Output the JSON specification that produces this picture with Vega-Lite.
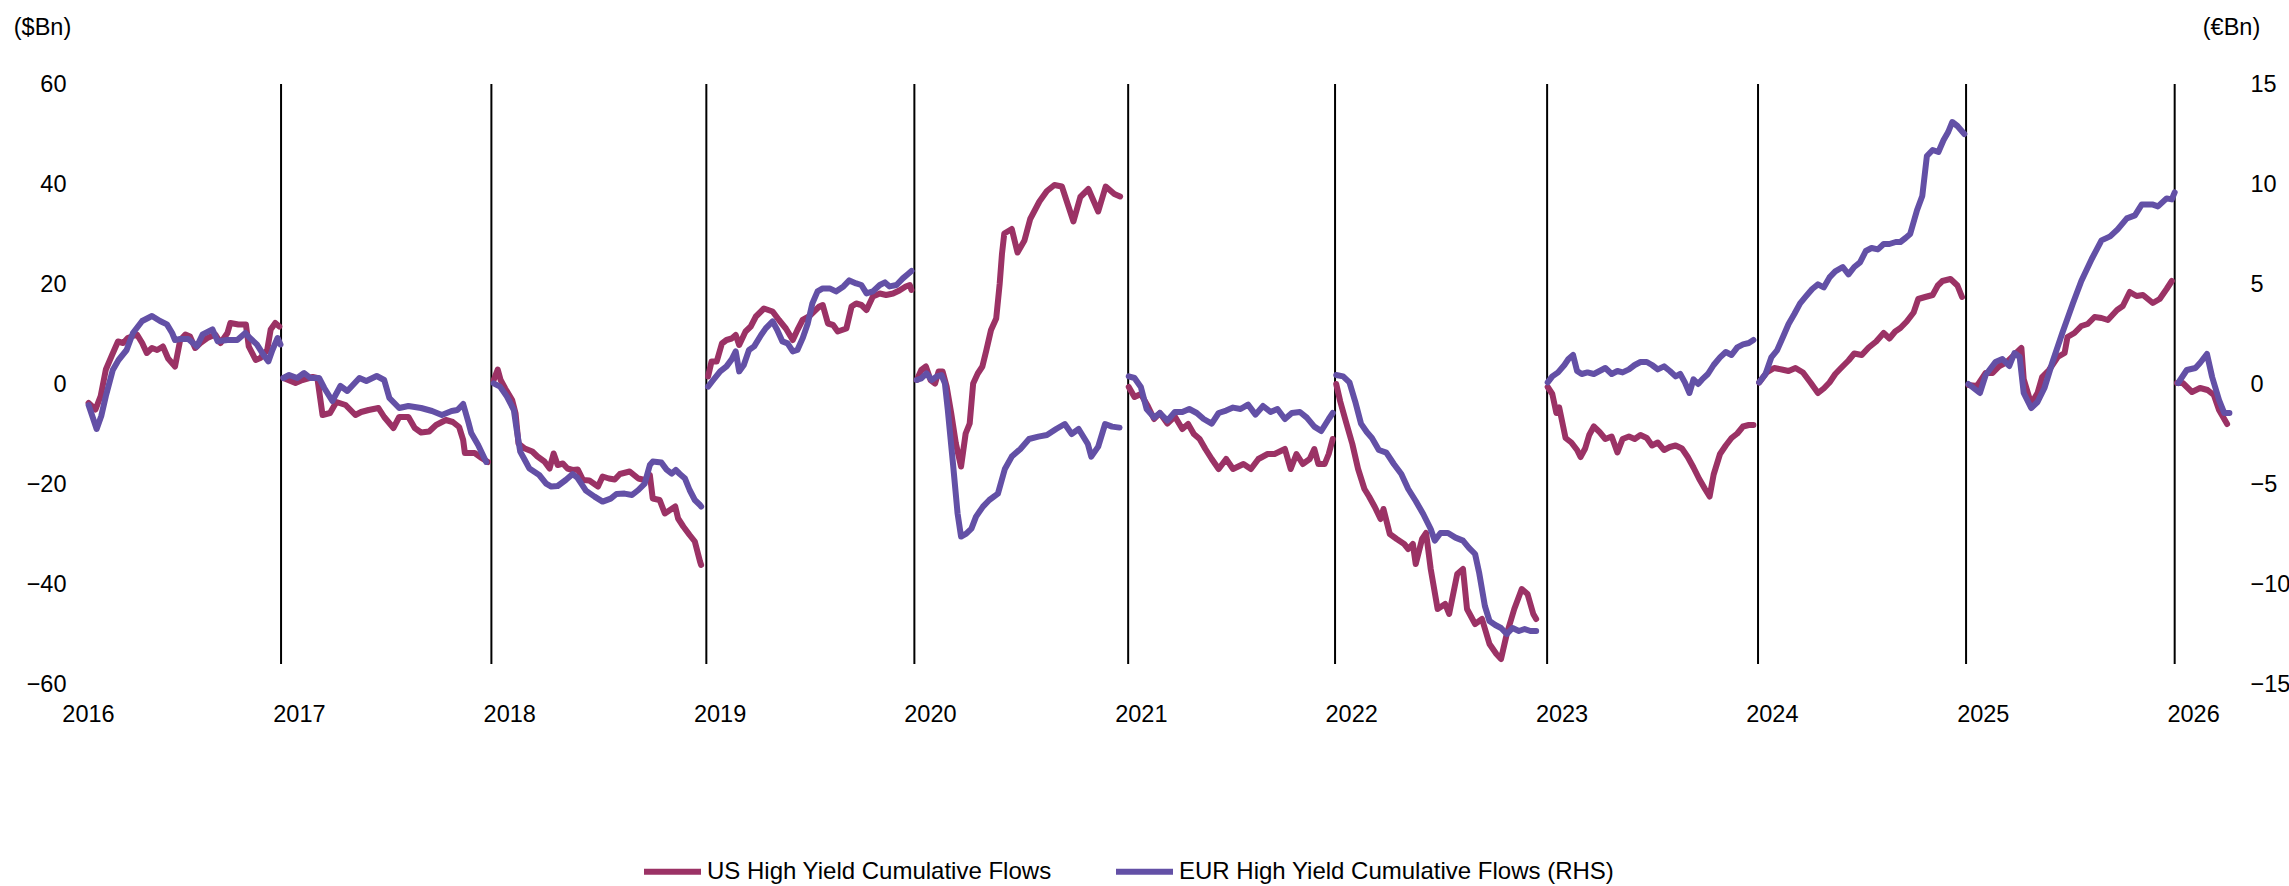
{
  "$schema": "https://vega.github.io/schema/vega-lite/v6.json",
  "width": 2142,
  "height": 600,
  "autosize": {"type": "none"},
  "padding": {"left": 88, "top": 84, "right": 59, "bottom": 202},
  "background": "white",
  "config": {
    "view": {"stroke": null},
    "font": "Liberation Sans",
    "axis": {"labelFont": "Liberation Sans", "labelFontSize": 23.5, "labelColor": "black", "titleFont": "Liberation Sans", "titleFontSize": 23.5, "titleFontWeight": "normal", "titleColor": "black", "domain": false, "ticks": false, "tickSize": 0, "grid": false},
    "legend": {"labelFont": "Liberation Sans", "labelFontSize": 24, "labelColor": "black", "labelLimit": 0}
  },
  "datasets": {
    "us": [
      {"date": "2016-02-02", "v": -3.8}, {"date": "2016-02-14", "v": -5.1}, {"date": "2016-02-23", "v": -2.4}, {"date": "2016-03-03", "v": 2.9}, {"date": "2016-03-13", "v": 5.6}, {"date": "2016-03-24", "v": 8.5}, {"date": "2016-04-02", "v": 8.2}, {"date": "2016-04-10", "v": 9.2}, {"date": "2016-04-26", "v": 9.9}, {"date": "2016-05-05", "v": 8.2}, {"date": "2016-05-13", "v": 6.2}, {"date": "2016-05-22", "v": 7.2}, {"date": "2016-05-31", "v": 6.8}, {"date": "2016-06-10", "v": 7.5}, {"date": "2016-06-19", "v": 5.1}, {"date": "2016-07-01", "v": 3.5}, {"date": "2016-07-10", "v": 8.8}, {"date": "2016-07-19", "v": 9.9}, {"date": "2016-07-27", "v": 9.5}, {"date": "2016-08-05", "v": 7.2}, {"date": "2016-08-14", "v": 8.2}, {"date": "2016-08-26", "v": 9.2}, {"date": "2016-09-09", "v": 9.9}, {"date": "2016-09-18", "v": 8.2}, {"date": "2016-09-30", "v": 10.2}, {"date": "2016-10-05", "v": 12.2}, {"date": "2016-10-19", "v": 11.9}, {"date": "2016-11-01", "v": 11.9}, {"date": "2016-11-06", "v": 7.5}, {"date": "2016-11-18", "v": 4.8}, {"date": "2016-11-26", "v": 5.2}, {"date": "2016-12-08", "v": 6.8}, {"date": "2016-12-14", "v": 10.9}, {"date": "2016-12-22", "v": 12.2}, {"date": "2016-12-29", "v": 11.5},
      {"date": "2017-01-05", "v": 1.2}, {"date": "2017-01-26", "v": 0.2}, {"date": "2017-02-07", "v": 0.8}, {"date": "2017-02-25", "v": 1.4}, {"date": "2017-03-05", "v": 1.2}, {"date": "2017-03-14", "v": -6.2}, {"date": "2017-03-27", "v": -5.8}, {"date": "2017-04-07", "v": -3.6}, {"date": "2017-04-23", "v": -4.2}, {"date": "2017-05-10", "v": -6.2}, {"date": "2017-05-20", "v": -5.6}, {"date": "2017-06-02", "v": -5.2}, {"date": "2017-06-19", "v": -4.8}, {"date": "2017-06-29", "v": -6.6}, {"date": "2017-07-15", "v": -8.8}, {"date": "2017-07-25", "v": -6.6}, {"date": "2017-08-10", "v": -6.6}, {"date": "2017-08-21", "v": -8.8}, {"date": "2017-09-01", "v": -9.7}, {"date": "2017-09-15", "v": -9.5}, {"date": "2017-09-27", "v": -8.2}, {"date": "2017-10-14", "v": -7.2}, {"date": "2017-10-26", "v": -7.6}, {"date": "2017-11-06", "v": -8.6}, {"date": "2017-11-13", "v": -11.2}, {"date": "2017-11-16", "v": -13.8}, {"date": "2017-12-03", "v": -13.8}, {"date": "2017-12-15", "v": -14.8}, {"date": "2017-12-26", "v": -15.6},
      {"date": "2018-01-05", "v": 0.8}, {"date": "2018-01-12", "v": 2.9}, {"date": "2018-01-17", "v": 0.8}, {"date": "2018-01-25", "v": -0.9}, {"date": "2018-02-06", "v": -3.2}, {"date": "2018-02-12", "v": -5.9}, {"date": "2018-02-17", "v": -11.9}, {"date": "2018-02-28", "v": -12.9}, {"date": "2018-03-13", "v": -13.5}, {"date": "2018-03-22", "v": -14.5}, {"date": "2018-04-03", "v": -15.5}, {"date": "2018-04-12", "v": -16.9}, {"date": "2018-04-19", "v": -13.9}, {"date": "2018-04-26", "v": -16.2}, {"date": "2018-05-05", "v": -15.9}, {"date": "2018-05-13", "v": -16.9}, {"date": "2018-05-22", "v": -17.2}, {"date": "2018-05-31", "v": -17.1}, {"date": "2018-06-09", "v": -19.2}, {"date": "2018-06-20", "v": -19.3}, {"date": "2018-07-05", "v": -20.5}, {"date": "2018-07-13", "v": -18.5}, {"date": "2018-07-24", "v": -18.9}, {"date": "2018-08-03", "v": -19.1}, {"date": "2018-08-12", "v": -18.0}, {"date": "2018-08-29", "v": -17.5}, {"date": "2018-09-13", "v": -18.9}, {"date": "2018-09-24", "v": -19.2}, {"date": "2018-10-03", "v": -18.2}, {"date": "2018-10-08", "v": -22.9}, {"date": "2018-10-20", "v": -23.2}, {"date": "2018-10-29", "v": -25.9}, {"date": "2018-11-07", "v": -25.2}, {"date": "2018-11-16", "v": -24.5}, {"date": "2018-11-21", "v": -26.9}, {"date": "2018-11-30", "v": -28.5}, {"date": "2018-12-11", "v": -30.2}, {"date": "2018-12-20", "v": -31.5}, {"date": "2018-12-29", "v": -35.5}, {"date": "2018-12-31", "v": -36.2},
      {"date": "2019-01-12", "v": 1.5}, {"date": "2019-01-18", "v": 4.5}, {"date": "2019-01-27", "v": 4.5}, {"date": "2019-02-05", "v": 8.1}, {"date": "2019-02-13", "v": 8.8}, {"date": "2019-02-22", "v": 9.1}, {"date": "2019-03-01", "v": 9.8}, {"date": "2019-03-07", "v": 7.8}, {"date": "2019-03-18", "v": 10.5}, {"date": "2019-03-27", "v": 11.5}, {"date": "2019-04-05", "v": 13.5}, {"date": "2019-04-19", "v": 15.1}, {"date": "2019-05-04", "v": 14.5}, {"date": "2019-05-15", "v": 12.8}, {"date": "2019-05-27", "v": 11.1}, {"date": "2019-06-08", "v": 8.8}, {"date": "2019-06-16", "v": 10.8}, {"date": "2019-06-25", "v": 12.8}, {"date": "2019-07-06", "v": 13.5}, {"date": "2019-07-15", "v": 14.5}, {"date": "2019-07-24", "v": 15.5}, {"date": "2019-07-30", "v": 15.8}, {"date": "2019-08-08", "v": 12.1}, {"date": "2019-08-17", "v": 11.8}, {"date": "2019-08-25", "v": 10.5}, {"date": "2019-09-09", "v": 11.1}, {"date": "2019-09-18", "v": 15.5}, {"date": "2019-09-26", "v": 16.1}, {"date": "2019-10-05", "v": 15.8}, {"date": "2019-10-14", "v": 14.8}, {"date": "2019-10-25", "v": 17.5}, {"date": "2019-11-06", "v": 18.1}, {"date": "2019-11-17", "v": 17.8}, {"date": "2019-11-29", "v": 18.1}, {"date": "2019-12-10", "v": 18.7}, {"date": "2019-12-21", "v": 19.5}, {"date": "2019-12-28", "v": 19.8}, {"date": "2019-12-31", "v": 18.8},
      {"date": "2020-01-09", "v": 0.8}, {"date": "2020-01-17", "v": 2.8}, {"date": "2020-01-25", "v": 3.5}, {"date": "2020-02-02", "v": 0.8}, {"date": "2020-02-10", "v": 0.1}, {"date": "2020-02-16", "v": 2.5}, {"date": "2020-02-23", "v": 2.5}, {"date": "2020-03-01", "v": -0.5}, {"date": "2020-03-09", "v": -5.9}, {"date": "2020-03-17", "v": -11.9}, {"date": "2020-03-26", "v": -16.5}, {"date": "2020-04-03", "v": -9.9}, {"date": "2020-04-10", "v": -7.9}, {"date": "2020-04-16", "v": 0.1}, {"date": "2020-04-24", "v": 2.1}, {"date": "2020-05-02", "v": 3.5}, {"date": "2020-05-09", "v": 6.8}, {"date": "2020-05-17", "v": 10.8}, {"date": "2020-05-26", "v": 13.1}, {"date": "2020-06-01", "v": 20}, {"date": "2020-06-05", "v": 26}, {"date": "2020-06-09", "v": 30.1}, {"date": "2020-06-22", "v": 31}, {"date": "2020-07-02", "v": 26.3}, {"date": "2020-07-14", "v": 28.7}, {"date": "2020-07-24", "v": 33}, {"date": "2020-08-09", "v": 36.5}, {"date": "2020-08-22", "v": 38.6}, {"date": "2020-09-04", "v": 39.8}, {"date": "2020-09-17", "v": 39.5}, {"date": "2020-09-27", "v": 36}, {"date": "2020-10-07", "v": 32.5}, {"date": "2020-10-19", "v": 37.4}, {"date": "2020-11-02", "v": 39}, {"date": "2020-11-19", "v": 34.5}, {"date": "2020-12-02", "v": 39.5}, {"date": "2020-12-17", "v": 38}, {"date": "2020-12-27", "v": 37.5},
      {"date": "2021-01-11", "v": -0.6}, {"date": "2021-01-21", "v": -2.6}, {"date": "2021-02-01", "v": -2}, {"date": "2021-02-13", "v": -4.4}, {"date": "2021-02-24", "v": -7}, {"date": "2021-03-06", "v": -5.8}, {"date": "2021-03-19", "v": -7.9}, {"date": "2021-04-01", "v": -6.5}, {"date": "2021-04-14", "v": -9}, {"date": "2021-04-24", "v": -8}, {"date": "2021-05-04", "v": -10}, {"date": "2021-05-14", "v": -11}, {"date": "2021-05-24", "v": -13}, {"date": "2021-06-04", "v": -15}, {"date": "2021-06-16", "v": -17}, {"date": "2021-06-29", "v": -15}, {"date": "2021-07-11", "v": -17}, {"date": "2021-07-29", "v": -16}, {"date": "2021-08-11", "v": -17}, {"date": "2021-08-24", "v": -15}, {"date": "2021-09-09", "v": -14}, {"date": "2021-09-21", "v": -14}, {"date": "2021-10-09", "v": -13}, {"date": "2021-10-19", "v": -17}, {"date": "2021-10-29", "v": -14}, {"date": "2021-11-09", "v": -16}, {"date": "2021-11-21", "v": -15}, {"date": "2021-11-29", "v": -13}, {"date": "2021-12-06", "v": -16}, {"date": "2021-12-17", "v": -16}, {"date": "2021-12-24", "v": -14}, {"date": "2021-12-31", "v": -11},
      {"date": "2022-01-06", "v": 0}, {"date": "2022-01-13", "v": -3.5}, {"date": "2022-01-24", "v": -8}, {"date": "2022-02-03", "v": -12}, {"date": "2022-02-13", "v": -17}, {"date": "2022-02-24", "v": -21}, {"date": "2022-03-04", "v": -22.5}, {"date": "2022-03-14", "v": -24.6}, {"date": "2022-03-24", "v": -27}, {"date": "2022-03-29", "v": -25}, {"date": "2022-04-09", "v": -30}, {"date": "2022-04-21", "v": -31}, {"date": "2022-05-04", "v": -32}, {"date": "2022-05-11", "v": -33}, {"date": "2022-05-19", "v": -32}, {"date": "2022-05-24", "v": -36}, {"date": "2022-06-04", "v": -31}, {"date": "2022-06-11", "v": -29.8}, {"date": "2022-06-19", "v": -37}, {"date": "2022-07-01", "v": -45}, {"date": "2022-07-14", "v": -44}, {"date": "2022-07-21", "v": -46}, {"date": "2022-08-04", "v": -38}, {"date": "2022-08-14", "v": -37}, {"date": "2022-08-21", "v": -45}, {"date": "2022-09-04", "v": -48}, {"date": "2022-09-16", "v": -47}, {"date": "2022-09-29", "v": -52}, {"date": "2022-10-11", "v": -54}, {"date": "2022-10-19", "v": -55}, {"date": "2022-10-29", "v": -50}, {"date": "2022-11-11", "v": -45}, {"date": "2022-11-24", "v": -41}, {"date": "2022-12-04", "v": -42}, {"date": "2022-12-14", "v": -46}, {"date": "2022-12-19", "v": -47},
      {"date": "2023-01-08", "v": -0.6}, {"date": "2023-01-16", "v": -2}, {"date": "2023-01-23", "v": -5.8}, {"date": "2023-01-28", "v": -4.7}, {"date": "2023-02-08", "v": -10.8}, {"date": "2023-02-18", "v": -11.7}, {"date": "2023-02-28", "v": -13.2}, {"date": "2023-03-06", "v": -14.6}, {"date": "2023-03-14", "v": -12.9}, {"date": "2023-03-21", "v": -10.2}, {"date": "2023-03-29", "v": -8.5}, {"date": "2023-04-08", "v": -9.6}, {"date": "2023-04-18", "v": -11}, {"date": "2023-04-29", "v": -10.5}, {"date": "2023-05-09", "v": -13.7}, {"date": "2023-05-18", "v": -11}, {"date": "2023-05-29", "v": -10.5}, {"date": "2023-06-08", "v": -11}, {"date": "2023-06-18", "v": -10.2}, {"date": "2023-06-29", "v": -10.8}, {"date": "2023-07-08", "v": -12.3}, {"date": "2023-07-18", "v": -11.7}, {"date": "2023-07-29", "v": -13.2}, {"date": "2023-08-08", "v": -12.6}, {"date": "2023-08-18", "v": -12.3}, {"date": "2023-08-29", "v": -12.9}, {"date": "2023-09-08", "v": -14.6}, {"date": "2023-09-18", "v": -16.7}, {"date": "2023-09-28", "v": -19}, {"date": "2023-10-08", "v": -21}, {"date": "2023-10-16", "v": -22.5}, {"date": "2023-10-23", "v": -18.1}, {"date": "2023-11-03", "v": -14}, {"date": "2023-11-13", "v": -12.3}, {"date": "2023-11-23", "v": -10.8}, {"date": "2023-12-03", "v": -9.9}, {"date": "2023-12-13", "v": -8.5}, {"date": "2023-12-23", "v": -8.2}, {"date": "2023-12-31", "v": -8.2},
      {"date": "2024-01-10", "v": 0.3}, {"date": "2024-01-23", "v": 2.3}, {"date": "2024-02-05", "v": 3.2}, {"date": "2024-02-18", "v": 2.9}, {"date": "2024-03-01", "v": 2.6}, {"date": "2024-03-13", "v": 3.2}, {"date": "2024-03-26", "v": 2.3}, {"date": "2024-04-08", "v": 0.3}, {"date": "2024-04-21", "v": -1.8}, {"date": "2024-05-01", "v": -0.9}, {"date": "2024-05-11", "v": 0.3}, {"date": "2024-05-21", "v": 2}, {"date": "2024-05-31", "v": 3.2}, {"date": "2024-06-13", "v": 4.7}, {"date": "2024-06-23", "v": 6.1}, {"date": "2024-07-06", "v": 5.8}, {"date": "2024-07-18", "v": 7.3}, {"date": "2024-07-31", "v": 8.5}, {"date": "2024-08-13", "v": 10.2}, {"date": "2024-08-23", "v": 9.1}, {"date": "2024-09-02", "v": 10.5}, {"date": "2024-09-11", "v": 11.2}, {"date": "2024-09-22", "v": 12.5}, {"date": "2024-10-04", "v": 14.3}, {"date": "2024-10-12", "v": 17}, {"date": "2024-10-24", "v": 17.4}, {"date": "2024-11-06", "v": 17.8}, {"date": "2024-11-15", "v": 19.7}, {"date": "2024-11-23", "v": 20.6}, {"date": "2024-12-07", "v": 21}, {"date": "2024-12-19", "v": 19.7}, {"date": "2024-12-27", "v": 17.4},
      {"date": "2025-01-07", "v": -0.2}, {"date": "2025-01-22", "v": -0.4}, {"date": "2025-02-06", "v": 2.2}, {"date": "2025-02-18", "v": 2.2}, {"date": "2025-03-02", "v": 3.6}, {"date": "2025-03-15", "v": 4.4}, {"date": "2025-03-31", "v": 6.2}, {"date": "2025-04-09", "v": 7.2}, {"date": "2025-04-13", "v": 1}, {"date": "2025-04-26", "v": -4}, {"date": "2025-05-07", "v": -1.8}, {"date": "2025-05-15", "v": 1.4}, {"date": "2025-05-27", "v": 2.8}, {"date": "2025-06-11", "v": 5.4}, {"date": "2025-06-23", "v": 6.2}, {"date": "2025-06-28", "v": 9.4}, {"date": "2025-07-10", "v": 10.2}, {"date": "2025-07-22", "v": 11.6}, {"date": "2025-08-02", "v": 12}, {"date": "2025-08-14", "v": 13.4}, {"date": "2025-08-26", "v": 13.2}, {"date": "2025-09-06", "v": 12.8}, {"date": "2025-09-22", "v": 14.8}, {"date": "2025-10-02", "v": 15.6}, {"date": "2025-10-14", "v": 18.4}, {"date": "2025-10-26", "v": 17.6}, {"date": "2025-11-06", "v": 17.8}, {"date": "2025-11-23", "v": 16.2}, {"date": "2025-12-05", "v": 17}, {"date": "2025-12-17", "v": 19}, {"date": "2025-12-26", "v": 20.6},
      {"date": "2026-01-04", "v": 0.2}, {"date": "2026-01-14", "v": 0.2}, {"date": "2026-01-30", "v": -1.6}, {"date": "2026-02-13", "v": -0.8}, {"date": "2026-02-26", "v": -1.2}, {"date": "2026-03-09", "v": -2.2}, {"date": "2026-03-18", "v": -5.2}, {"date": "2026-04-01", "v": -8.0}
    ],
    "eur": [
      {"date": "2016-02-02", "v": -1.05}, {"date": "2016-02-16", "v": -2.25}, {"date": "2016-02-24", "v": -1.6}, {"date": "2016-03-03", "v": -0.6}, {"date": "2016-03-15", "v": 0.7}, {"date": "2016-03-25", "v": 1.2}, {"date": "2016-04-08", "v": 1.7}, {"date": "2016-04-19", "v": 2.55}, {"date": "2016-05-05", "v": 3.15}, {"date": "2016-05-22", "v": 3.4}, {"date": "2016-06-05", "v": 3.15}, {"date": "2016-06-17", "v": 2.98}, {"date": "2016-06-26", "v": 2.55}, {"date": "2016-07-01", "v": 2.2}, {"date": "2016-07-10", "v": 2.25}, {"date": "2016-07-24", "v": 2.25}, {"date": "2016-08-08", "v": 1.88}, {"date": "2016-08-18", "v": 2.48}, {"date": "2016-09-04", "v": 2.73}, {"date": "2016-09-13", "v": 2.13}, {"date": "2016-09-30", "v": 2.2}, {"date": "2016-10-17", "v": 2.2}, {"date": "2016-10-31", "v": 2.55}, {"date": "2016-11-08", "v": 2.3}, {"date": "2016-11-20", "v": 1.98}, {"date": "2016-12-01", "v": 1.48}, {"date": "2016-12-10", "v": 1.13}, {"date": "2016-12-17", "v": 1.7}, {"date": "2016-12-26", "v": 2.3}, {"date": "2016-12-31", "v": 1.98},
      {"date": "2017-01-05", "v": 0.3}, {"date": "2017-01-15", "v": 0.45}, {"date": "2017-01-29", "v": 0.3}, {"date": "2017-02-10", "v": 0.55}, {"date": "2017-02-21", "v": 0.3}, {"date": "2017-03-08", "v": 0.3}, {"date": "2017-03-17", "v": -0.2}, {"date": "2017-03-31", "v": -0.85}, {"date": "2017-04-14", "v": -0.1}, {"date": "2017-04-26", "v": -0.35}, {"date": "2017-05-17", "v": 0.3}, {"date": "2017-05-29", "v": 0.15}, {"date": "2017-06-16", "v": 0.4}, {"date": "2017-06-29", "v": 0.2}, {"date": "2017-07-08", "v": -0.7}, {"date": "2017-07-25", "v": -1.2}, {"date": "2017-08-10", "v": -1.1}, {"date": "2017-09-01", "v": -1.2}, {"date": "2017-09-20", "v": -1.35}, {"date": "2017-10-07", "v": -1.55}, {"date": "2017-10-24", "v": -1.35}, {"date": "2017-11-03", "v": -1.3}, {"date": "2017-11-13", "v": -1.0}, {"date": "2017-11-22", "v": -1.9}, {"date": "2017-11-27", "v": -2.45}, {"date": "2017-12-09", "v": -3.05}, {"date": "2017-12-23", "v": -3.9},
      {"date": "2018-01-05", "v": 0.03}, {"date": "2018-01-16", "v": -0.13}, {"date": "2018-01-28", "v": -0.63}, {"date": "2018-02-09", "v": -1.3}, {"date": "2018-02-14", "v": -2.3}, {"date": "2018-02-20", "v": -3.38}, {"date": "2018-02-28", "v": -3.8}, {"date": "2018-03-08", "v": -4.23}, {"date": "2018-03-25", "v": -4.55}, {"date": "2018-04-06", "v": -4.98}, {"date": "2018-04-15", "v": -5.13}, {"date": "2018-04-26", "v": -5.1}, {"date": "2018-05-10", "v": -4.8}, {"date": "2018-05-22", "v": -4.5}, {"date": "2018-05-30", "v": -4.68}, {"date": "2018-06-06", "v": -4.98}, {"date": "2018-06-14", "v": -5.33}, {"date": "2018-06-29", "v": -5.63}, {"date": "2018-07-13", "v": -5.88}, {"date": "2018-07-27", "v": -5.73}, {"date": "2018-08-06", "v": -5.5}, {"date": "2018-08-20", "v": -5.48}, {"date": "2018-09-02", "v": -5.55}, {"date": "2018-09-13", "v": -5.3}, {"date": "2018-09-24", "v": -4.98}, {"date": "2018-10-03", "v": -4.05}, {"date": "2018-10-08", "v": -3.88}, {"date": "2018-10-23", "v": -3.93}, {"date": "2018-11-01", "v": -4.28}, {"date": "2018-11-10", "v": -4.48}, {"date": "2018-11-17", "v": -4.3}, {"date": "2018-11-24", "v": -4.5}, {"date": "2018-12-03", "v": -4.73}, {"date": "2018-12-11", "v": -5.3}, {"date": "2018-12-20", "v": -5.8}, {"date": "2018-12-29", "v": -6.05}, {"date": "2018-12-31", "v": -6.13},
      {"date": "2019-01-12", "v": -0.13}, {"date": "2019-01-21", "v": 0.2}, {"date": "2019-02-02", "v": 0.63}, {"date": "2019-02-13", "v": 0.88}, {"date": "2019-02-22", "v": 1.23}, {"date": "2019-03-01", "v": 1.63}, {"date": "2019-03-07", "v": 0.63}, {"date": "2019-03-15", "v": 0.95}, {"date": "2019-03-24", "v": 1.7}, {"date": "2019-04-02", "v": 1.88}, {"date": "2019-04-14", "v": 2.45}, {"date": "2019-04-22", "v": 2.78}, {"date": "2019-05-04", "v": 3.13}, {"date": "2019-05-12", "v": 2.7}, {"date": "2019-05-21", "v": 2.13}, {"date": "2019-05-30", "v": 2.03}, {"date": "2019-06-08", "v": 1.63}, {"date": "2019-06-16", "v": 1.7}, {"date": "2019-06-25", "v": 2.28}, {"date": "2019-07-04", "v": 3.03}, {"date": "2019-07-12", "v": 4.03}, {"date": "2019-07-21", "v": 4.63}, {"date": "2019-07-30", "v": 4.78}, {"date": "2019-08-11", "v": 4.78}, {"date": "2019-08-22", "v": 4.63}, {"date": "2019-09-04", "v": 4.88}, {"date": "2019-09-14", "v": 5.18}, {"date": "2019-09-26", "v": 5.03}, {"date": "2019-10-05", "v": 4.95}, {"date": "2019-10-14", "v": 4.53}, {"date": "2019-10-25", "v": 4.63}, {"date": "2019-11-06", "v": 4.95}, {"date": "2019-11-15", "v": 5.08}, {"date": "2019-11-23", "v": 4.88}, {"date": "2019-12-05", "v": 4.95}, {"date": "2019-12-16", "v": 5.28}, {"date": "2019-12-25", "v": 5.5}, {"date": "2019-12-31", "v": 5.65},
      {"date": "2020-01-09", "v": 0.2}, {"date": "2020-01-17", "v": 0.28}, {"date": "2020-01-26", "v": 0.53}, {"date": "2020-02-04", "v": 0.2}, {"date": "2020-02-13", "v": 0.38}, {"date": "2020-02-21", "v": 0.45}, {"date": "2020-02-27", "v": 0.03}, {"date": "2020-03-03", "v": -1.3}, {"date": "2020-03-12", "v": -3.98}, {"date": "2020-03-20", "v": -6.48}, {"date": "2020-03-26", "v": -7.63}, {"date": "2020-04-04", "v": -7.48}, {"date": "2020-04-13", "v": -7.23}, {"date": "2020-04-21", "v": -6.63}, {"date": "2020-05-03", "v": -6.13}, {"date": "2020-05-14", "v": -5.8}, {"date": "2020-05-29", "v": -5.48}, {"date": "2020-06-10", "v": -4.25}, {"date": "2020-06-22", "v": -3.63}, {"date": "2020-07-07", "v": -3.25}, {"date": "2020-07-22", "v": -2.75}, {"date": "2020-08-07", "v": -2.63}, {"date": "2020-08-22", "v": -2.55}, {"date": "2020-09-07", "v": -2.25}, {"date": "2020-09-22", "v": -2.0}, {"date": "2020-10-04", "v": -2.5}, {"date": "2020-10-16", "v": -2.25}, {"date": "2020-11-01", "v": -3.0}, {"date": "2020-11-07", "v": -3.63}, {"date": "2020-11-19", "v": -3.13}, {"date": "2020-12-01", "v": -2.0}, {"date": "2020-12-13", "v": -2.13}, {"date": "2020-12-26", "v": -2.18},
      {"date": "2021-01-11", "v": 0.38}, {"date": "2021-01-21", "v": 0.3}, {"date": "2021-02-01", "v": -0.15}, {"date": "2021-02-11", "v": -1.25}, {"date": "2021-02-24", "v": -1.68}, {"date": "2021-03-06", "v": -1.45}, {"date": "2021-03-19", "v": -1.83}, {"date": "2021-04-01", "v": -1.4}, {"date": "2021-04-14", "v": -1.4}, {"date": "2021-04-26", "v": -1.25}, {"date": "2021-05-09", "v": -1.45}, {"date": "2021-05-21", "v": -1.75}, {"date": "2021-06-04", "v": -1.98}, {"date": "2021-06-16", "v": -1.45}, {"date": "2021-06-29", "v": -1.33}, {"date": "2021-07-11", "v": -1.18}, {"date": "2021-07-24", "v": -1.25}, {"date": "2021-08-06", "v": -1.03}, {"date": "2021-08-19", "v": -1.53}, {"date": "2021-09-01", "v": -1.1}, {"date": "2021-09-14", "v": -1.4}, {"date": "2021-09-26", "v": -1.25}, {"date": "2021-10-09", "v": -1.75}, {"date": "2021-10-21", "v": -1.45}, {"date": "2021-11-04", "v": -1.4}, {"date": "2021-11-16", "v": -1.68}, {"date": "2021-11-29", "v": -2.13}, {"date": "2021-12-11", "v": -2.35}, {"date": "2021-12-24", "v": -1.75}, {"date": "2021-12-31", "v": -1.45},
      {"date": "2022-01-06", "v": 0.45}, {"date": "2022-01-18", "v": 0.38}, {"date": "2022-01-29", "v": 0.08}, {"date": "2022-02-08", "v": -0.88}, {"date": "2022-02-18", "v": -1.98}, {"date": "2022-02-28", "v": -2.4}, {"date": "2022-03-09", "v": -2.7}, {"date": "2022-03-21", "v": -3.3}, {"date": "2022-04-03", "v": -3.43}, {"date": "2022-04-16", "v": -4.0}, {"date": "2022-04-29", "v": -4.5}, {"date": "2022-05-11", "v": -5.25}, {"date": "2022-05-24", "v": -5.85}, {"date": "2022-06-06", "v": -6.5}, {"date": "2022-06-19", "v": -7.25}, {"date": "2022-06-26", "v": -7.83}, {"date": "2022-07-06", "v": -7.45}, {"date": "2022-07-19", "v": -7.45}, {"date": "2022-08-01", "v": -7.68}, {"date": "2022-08-14", "v": -7.83}, {"date": "2022-08-24", "v": -8.18}, {"date": "2022-09-04", "v": -8.5}, {"date": "2022-09-11", "v": -9.43}, {"date": "2022-09-21", "v": -11.1}, {"date": "2022-09-29", "v": -11.85}, {"date": "2022-10-09", "v": -12.05}, {"date": "2022-10-19", "v": -12.2}, {"date": "2022-10-29", "v": -12.5}, {"date": "2022-11-08", "v": -12.2}, {"date": "2022-11-19", "v": -12.35}, {"date": "2022-11-29", "v": -12.25}, {"date": "2022-12-09", "v": -12.35}, {"date": "2022-12-19", "v": -12.35},
      {"date": "2023-01-08", "v": 0.08}, {"date": "2023-01-16", "v": 0.38}, {"date": "2023-01-26", "v": 0.58}, {"date": "2023-02-06", "v": 0.95}, {"date": "2023-02-13", "v": 1.25}, {"date": "2023-02-21", "v": 1.45}, {"date": "2023-02-28", "v": 0.65}, {"date": "2023-03-08", "v": 0.5}, {"date": "2023-03-18", "v": 0.58}, {"date": "2023-03-29", "v": 0.5}, {"date": "2023-04-08", "v": 0.65}, {"date": "2023-04-18", "v": 0.8}, {"date": "2023-04-29", "v": 0.5}, {"date": "2023-05-09", "v": 0.65}, {"date": "2023-05-18", "v": 0.58}, {"date": "2023-05-29", "v": 0.73}, {"date": "2023-06-08", "v": 0.95}, {"date": "2023-06-18", "v": 1.1}, {"date": "2023-06-29", "v": 1.1}, {"date": "2023-07-08", "v": 0.95}, {"date": "2023-07-18", "v": 0.73}, {"date": "2023-07-29", "v": 0.88}, {"date": "2023-08-08", "v": 0.65}, {"date": "2023-08-18", "v": 0.38}, {"date": "2023-08-26", "v": 0.5}, {"date": "2023-09-03", "v": 0.08}, {"date": "2023-09-11", "v": -0.45}, {"date": "2023-09-18", "v": 0.23}, {"date": "2023-09-26", "v": 0}, {"date": "2023-10-03", "v": 0.23}, {"date": "2023-10-13", "v": 0.5}, {"date": "2023-10-23", "v": 0.95}, {"date": "2023-11-03", "v": 1.33}, {"date": "2023-11-13", "v": 1.6}, {"date": "2023-11-23", "v": 1.45}, {"date": "2023-12-03", "v": 1.83}, {"date": "2023-12-13", "v": 1.98}, {"date": "2023-12-23", "v": 2.05}, {"date": "2023-12-31", "v": 2.2},
      {"date": "2024-01-10", "v": 0.08}, {"date": "2024-01-21", "v": 0.5}, {"date": "2024-01-31", "v": 1.33}, {"date": "2024-02-10", "v": 1.68}, {"date": "2024-02-21", "v": 2.4}, {"date": "2024-03-01", "v": 3.0}, {"date": "2024-03-11", "v": 3.5}, {"date": "2024-03-21", "v": 4.03}, {"date": "2024-03-31", "v": 4.38}, {"date": "2024-04-11", "v": 4.75}, {"date": "2024-04-21", "v": 4.98}, {"date": "2024-05-01", "v": 4.83}, {"date": "2024-05-11", "v": 5.33}, {"date": "2024-05-21", "v": 5.63}, {"date": "2024-06-03", "v": 5.85}, {"date": "2024-06-13", "v": 5.48}, {"date": "2024-06-23", "v": 5.85}, {"date": "2024-07-03", "v": 6.08}, {"date": "2024-07-13", "v": 6.65}, {"date": "2024-07-23", "v": 6.8}, {"date": "2024-08-03", "v": 6.73}, {"date": "2024-08-13", "v": 7.0}, {"date": "2024-08-23", "v": 7.0}, {"date": "2024-09-03", "v": 7.1}, {"date": "2024-09-11", "v": 7.1}, {"date": "2024-09-20", "v": 7.3}, {"date": "2024-09-28", "v": 7.5}, {"date": "2024-10-05", "v": 8.2}, {"date": "2024-10-10", "v": 8.7}, {"date": "2024-10-19", "v": 9.4}, {"date": "2024-10-27", "v": 11.4}, {"date": "2024-11-06", "v": 11.7}, {"date": "2024-11-16", "v": 11.6}, {"date": "2024-11-25", "v": 12.2}, {"date": "2024-12-03", "v": 12.6}, {"date": "2024-12-10", "v": 13.1}, {"date": "2024-12-19", "v": 12.9}, {"date": "2024-12-31", "v": 12.5},
      {"date": "2025-01-07", "v": 0}, {"date": "2025-01-27", "v": -0.45}, {"date": "2025-02-06", "v": 0.45}, {"date": "2025-02-23", "v": 1.1}, {"date": "2025-03-07", "v": 1.25}, {"date": "2025-03-19", "v": 0.9}, {"date": "2025-03-28", "v": 1.55}, {"date": "2025-04-06", "v": 1.35}, {"date": "2025-04-13", "v": -0.45}, {"date": "2025-04-26", "v": -1.2}, {"date": "2025-05-07", "v": -0.9}, {"date": "2025-05-19", "v": -0.2}, {"date": "2025-06-02", "v": 1.1}, {"date": "2025-06-19", "v": 2.55}, {"date": "2025-07-07", "v": 4.0}, {"date": "2025-07-22", "v": 5.15}, {"date": "2025-08-09", "v": 6.25}, {"date": "2025-08-26", "v": 7.18}, {"date": "2025-09-10", "v": 7.38}, {"date": "2025-09-23", "v": 7.73}, {"date": "2025-10-09", "v": 8.28}, {"date": "2025-10-23", "v": 8.43}, {"date": "2025-11-04", "v": 8.98}, {"date": "2025-11-22", "v": 8.98}, {"date": "2025-12-02", "v": 8.88}, {"date": "2025-12-17", "v": 9.28}, {"date": "2025-12-26", "v": 9.23}, {"date": "2025-12-31", "v": 9.58},
      {"date": "2026-01-06", "v": 0.05}, {"date": "2026-01-21", "v": 0.7}, {"date": "2026-02-05", "v": 0.8}, {"date": "2026-02-13", "v": 1.05}, {"date": "2026-02-25", "v": 1.5}, {"date": "2026-03-06", "v": 0.35}, {"date": "2026-03-18", "v": -0.8}, {"date": "2026-03-27", "v": -1.45}, {"date": "2026-04-05", "v": -1.45}
    ],
    "rules": [
      {"date": "2017-01-01"}, {"date": "2018-01-01"}, {"date": "2019-01-09"}, {"date": "2020-01-05"}, {"date": "2021-01-10"}, {"date": "2022-01-04"}, {"date": "2023-01-07"}, {"date": "2024-01-08"}, {"date": "2025-01-03"}, {"date": "2025-12-31"}
    ]
  },
  "layer": [
    {
      "layer": [
        {
          "data": {"name": "rules"},
          "mark": {"type": "rule", "color": "black", "strokeWidth": 2},
          "encoding": {
            "x": {"field": "date", "type": "temporal", "scale": {"type": "utc", "domain": [{"year": 2016, "month": 2, "date": 1, "utc": true}, {"year": 2026, "month": 4, "date": 6, "utc": true}]}},
            "y": {"datum": 60, "type": "quantitative"},
            "y2": {"datum": -56}
          }
        },
        {
          "mark": {"type": "rule", "color": "black", "strokeWidth": 2},
          "encoding": {"y": {"datum": 0, "type": "quantitative"}}
        },
        {
          "data": {"name": "us"},
          "mark": {"type": "line", "strokeWidth": 6, "strokeJoin": "round", "strokeCap": "round"},
          "encoding": {
            "x": {"field": "date", "type": "temporal", "scale": {"type": "utc", "domain": [{"year": 2016, "month": 2, "date": 1, "utc": true}, {"year": 2026, "month": 4, "date": 6, "utc": true}]},
              "axis": {"title": null, "format": "%Y", "labelPadding": 30, "labelBaseline": "middle", "labelFlush": false, "values": [
                {"year": 2016, "month": 2, "date": 1, "utc": true}, {"year": 2017, "month": 2, "date": 1, "utc": true}, {"year": 2018, "month": 2, "date": 1, "utc": true}, {"year": 2019, "month": 2, "date": 1, "utc": true}, {"year": 2020, "month": 2, "date": 1, "utc": true}, {"year": 2021, "month": 2, "date": 1, "utc": true}, {"year": 2022, "month": 2, "date": 1, "utc": true}, {"year": 2023, "month": 2, "date": 1, "utc": true}, {"year": 2024, "month": 2, "date": 1, "utc": true}, {"year": 2025, "month": 2, "date": 1, "utc": true}, {"year": 2026, "month": 2, "date": 1, "utc": true}]}},
            "y": {"field": "v", "type": "quantitative", "scale": {"domain": [-60, 60], "nice": false, "zero": false},
              "axis": {"title": "($Bn)", "titleAngle": 0, "titleX": -46, "titleY": -57, "titleAlign": "center", "titleBaseline": "middle", "labelPadding": 22, "values": [-60, -40, -20, 0, 20, 40, 60]}},
            "detail": {"timeUnit": "utcyear", "field": "date"},
            "color": {"datum": "US High Yield Cumulative Flows", "type": "nominal",
              "scale": {"domain": ["US High Yield Cumulative Flows", "EUR High Yield Cumulative Flows (RHS)"], "range": ["#9B3265", "#6350A6"]},
              "legend": {"title": null, "orient": "none", "legendX": 553, "legendY": 756, "direction": "horizontal", "symbolType": "stroke", "symbolStrokeWidth": 6, "symbolSize": 3249, "columnPadding": 52, "labelOffset": 3, "labelFontSize": 24, "labelLimit": 0}}
          }
        }
      ]
    },
    {
      "data": {"name": "eur"},
      "mark": {"type": "line", "strokeWidth": 6, "strokeJoin": "round", "strokeCap": "round"},
      "encoding": {
        "x": {"field": "date", "type": "temporal", "scale": {"type": "utc", "domain": [{"year": 2016, "month": 2, "date": 1, "utc": true}, {"year": 2026, "month": 4, "date": 6, "utc": true}]}},
        "y": {"field": "v", "type": "quantitative", "scale": {"domain": [-15, 15], "nice": false, "zero": false},
          "axis": {"orient": "right", "title": "(€Bn)", "titleAngle": 0, "titleX": 1, "titleY": -57, "titleAlign": "center", "titleBaseline": "middle", "labelPadding": 20, "values": [-15, -10, -5, 0, 5, 10, 15]}},
        "detail": {"timeUnit": "utcyear", "field": "date"},
        "color": {"datum": "EUR High Yield Cumulative Flows (RHS)", "type": "nominal"}
      }
    }
  ],
  "resolve": {"scale": {"y": "independent"}}
}
